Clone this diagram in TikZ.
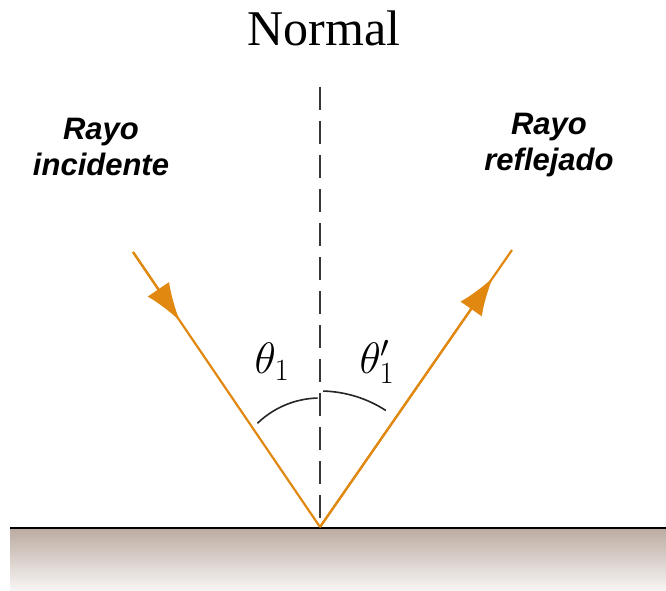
\RequirePackage{fix-cm}
\documentclass[tikz,border=0pt]{standalone}
\usepackage{fontspec}
\newfontfamily\labelfont{Liberation Sans}
\newfontfamily\titlefont{Liberation Serif}
\usetikzlibrary{arrows.meta,calc}
\definecolor{ray}{RGB}{224,136,16}
\definecolor{dashgray}{RGB}{55,55,55}
\definecolor{groundtop}{RGB}{188,172,162}
\definecolor{groundbot}{RGB}{248,246,245}
\tikzset{
  raystyle/.style={draw=ray, line width=2.2pt},
  headstyle/.style={raystyle, -{Latex[length=38pt,width=26pt]}},
  normalline/.style={draw=dashgray, line width=2pt, dash pattern=on 23pt off 11pt},
  anglearc/.style={draw=black!85, line width=1.6pt},
  raylabel/.style={font=\labelfont\fontsize{31}{36}\selectfont\bfseries\itshape, align=center},
  anglelabel/.style={font=\fontsize{44}{50}\selectfont}
}
\begin{document}
\begin{tikzpicture}[x=1pt,y=-1pt]
\useasboundingbox (0,0) rectangle (666,591);
% ground
\shade[top color=groundtop, bottom color=groundbot] (10,529) rectangle (666,591);
\coordinate (SL) at (10,528);
\coordinate (SR) at (666,528);
\draw[line width=2.6pt, black] (SL) -- (SR);
% geometry
\coordinate (O) at (320,527);
\coordinate (A) at (133,252);
\coordinate (B) at (512,250);
\coordinate (N) at (320,87);
\draw[normalline] (N) -- (O);
\draw[raystyle] (A) -- (O);
\draw[headstyle] (A) -- ($(A)!0.25!(O)$);
\draw[raystyle] (O) -- (B);
\draw[headstyle] (O) -- ($(O)!0.90!(B)$);
% angle arcs (y axis points down, so angles are negative)
\coordinate (CL) at (320,488);
\coordinate (CR) at (320,512);
\draw[anglearc] ($(CL)+(-134:90)$) arc[start angle=-134, end angle=-91.5, radius=90];
\draw[anglearc] ($(CR)+(-88.5:121)$) arc[start angle=-88.5, end angle=-57, radius=121];
% labels
\node[font=\titlefont\fontsize{50}{56}\selectfont] (normal) at (324,28) {Normal};
\node[raylabel] (inc) at (101,147) {Rayo\\incidente};
\node[raylabel] (ref) at (549,145) {Rayo\\reflejado};
\node[anglelabel] (t1) at (272,362) {$\theta_1$};
\node[anglelabel] (t1p) at (377,362) {$\theta_1'$};
\end{tikzpicture}
\end{document}
